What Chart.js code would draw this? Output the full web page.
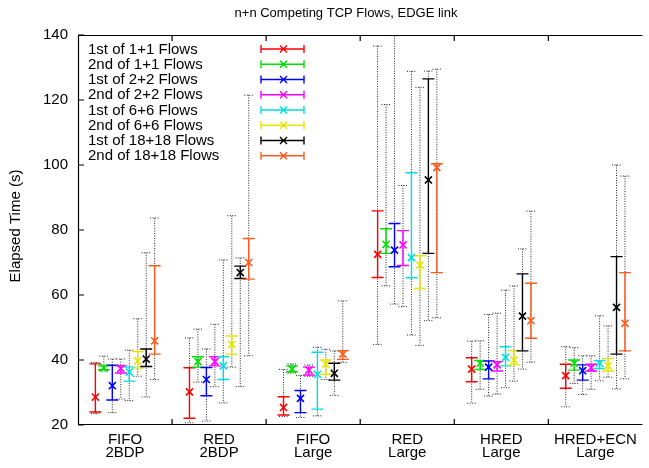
<!DOCTYPE html>
<html>
<head>
<meta charset="utf-8">
<script src="https://cdn.jsdelivr.net/npm/chart.js@4"></script>
<style>
  html, body { margin: 0; padding: 0; background: #fff; }
</style>
</head>
<body>
<canvas id="chart" width="649" height="468"></canvas>
<script>
// DATA
const categories = [["FIFO", "2BDP"], ["RED", "2BDP"], ["FIFO", "Large"], ["RED", "Large"], ["HRED", "Large"], ["HRED+ECN", "Large"]];
const seriesNames = ["1st of 1+1 Flows", "2nd of 1+1 Flows", "1st of 2+2 Flows", "2nd of 2+2 Flows",
  "1st of 6+6 Flows", "2nd of 6+6 Flows", "1st of 18+18 Flows", "2nd of 18+18 Flows"];
const seriesColors = ["#ff0000", "#00e000", "#0000ff", "#ff00ff", "#00e0e0", "#e6e600", "#000000", "#ff5a1a"];
const yTicks = [20, 40, 60, 80, 100, 120, 140];

// mean elapsed time, one row per series, one column per category
const elapsedMean = [
  [28.6, 30.2, 25.4, 72.5, 37.2, 35.2],
  [37.6, 39.5, 37.2, 75.6, 39.0, 39.0],
  [32.1, 34.0, 28.2, 73.8, 37.8, 36.7],
  [37.4, 39.5, 36.9, 75.4, 38.5, 37.6],
  [36.3, 38.2, 35.6, 71.5, 40.8, 39.0],
  [39.7, 44.8, 38.7, 69.2, 40.0, 38.2],
  [40.3, 66.9, 35.9, 95.4, 53.5, 56.2],
  [45.9, 70.0, 41.8, 99.2, 52.1, 51.3]
];
// solid error bars
const ciLow = [
  [24.0, 22.1, 23.1, 65.4, 33.3, 31.3],
  [37.0, 37.8, 36.4, 72.8, 37.1, 36.9],
  [27.7, 29.0, 23.8, 68.7, 34.2, 33.8],
  [36.0, 38.2, 35.4, 69.1, 36.6, 36.6],
  [33.5, 34.0, 24.9, 65.3, 38.2, 37.4],
  [37.5, 41.8, 35.6, 62.0, 38.5, 36.6],
  [38.0, 65.1, 33.8, 72.8, 42.8, 41.8],
  [41.8, 64.9, 40.2, 66.9, 46.7, 42.8]
];
const ciHigh = [
  [38.8, 37.6, 28.7, 85.9, 40.7, 38.7],
  [38.2, 41.0, 38.2, 80.4, 39.8, 40.0],
  [38.4, 37.7, 30.6, 82.0, 39.7, 38.5],
  [38.2, 41.0, 37.8, 79.8, 39.5, 38.7],
  [37.8, 41.0, 42.4, 97.6, 44.1, 39.8],
  [42.6, 47.4, 40.0, 72.1, 42.9, 40.5],
  [43.4, 68.9, 39.0, 126.5, 66.5, 71.8],
  [69.0, 77.4, 42.9, 100.4, 63.6, 66.9]
];
// dotted min / max
const rangeMin = [
  [23.5, 20.7, 22.6, 44.8, 26.7, 25.6],
  [36.6, 33.2, 36.0, 62.8, 31.0, 32.8],
  [23.8, 21.2, 22.3, 57.2, 28.9, 29.4],
  [28.0, 31.8, 35.0, 56.4, 29.5, 31.0],
  [27.5, 26.8, 22.8, 47.7, 31.5, 33.6],
  [35.0, 37.8, 34.0, 44.5, 33.5, 34.7],
  [28.6, 31.8, 29.1, 52.1, 37.2, 31.1],
  [34.0, 41.3, 39.2, 53.0, 39.3, 34.2]
];
const rangeMax = [
  [39.2, 46.8, 37.1, 136.6, 45.8, 44.1],
  [41.2, 49.5, 38.8, 118.6, 45.9, 43.8],
  [40.3, 43.4, 35.2, 139.8, 54.0, 41.3],
  [40.3, 51.0, 38.5, 93.7, 54.4, 41.3],
  [43.0, 70.8, 43.9, 128.8, 61.5, 53.6],
  [52.7, 84.4, 43.3, 123.9, 62.8, 50.5],
  [73.0, 71.4, 42.8, 128.9, 74.2, 100.0],
  [83.7, 121.5, 58.2, 129.5, 85.8, 96.6]
];

const FONT = "'Liberation Sans', Arial, Helvetica, sans-serif";
const groupStep = 0.09;
const seriesX = (s, i) => i + (s - 3.5) * groupStep;

// ERROR BARS (dotted ranges first, then solid bars)
const errorBars = {
  id: "errorBars",
  beforeDatasetsDraw(chart) {
    const { ctx, scales: { x, y } } = chart;
    ctx.save();
    ctx.lineWidth = 1;
    ctx.strokeStyle = "#222";
    ctx.setLineDash([1, 1.5]);
    seriesNames.forEach((name, s) => {
      categories.forEach((c, i) => {
        const px = x.getPixelForValue(seriesX(s, i));
        const top = y.getPixelForValue(rangeMax[s][i]);
        const bot = y.getPixelForValue(rangeMin[s][i]);
        ctx.beginPath();
        ctx.moveTo(px, top); ctx.lineTo(px, bot);
        ctx.moveTo(px - 4.5, top); ctx.lineTo(px + 4.5, top);
        ctx.moveTo(px - 4.5, bot); ctx.lineTo(px + 4.5, bot);
        ctx.stroke();
      });
    });
    ctx.setLineDash([]);
    ctx.lineWidth = 1.4;
    seriesNames.forEach((name, s) => {
      ctx.strokeStyle = seriesColors[s];
      categories.forEach((c, i) => {
        const px = x.getPixelForValue(seriesX(s, i));
        const top = y.getPixelForValue(ciHigh[s][i]);
        const bot = y.getPixelForValue(ciLow[s][i]);
        ctx.beginPath();
        ctx.moveTo(px, top); ctx.lineTo(px, bot);
        ctx.moveTo(px - 6, top); ctx.lineTo(px + 6, top);
        ctx.moveTo(px - 6, bot); ctx.lineTo(px + 6, bot);
        ctx.stroke();
      });
    });
    ctx.restore();
  }
};

// FRAME, INWARD TICKS, TITLE, AXIS LABEL, KEY
const decorations = {
  id: "decorations",
  afterDraw(chart) {
    const { ctx, chartArea: a, scales: { x, y } } = chart;
    ctx.save();
    ctx.strokeStyle = "#000";
    ctx.lineWidth = 1.2;
    ctx.beginPath();
    ctx.moveTo(a.right, a.top + 0.5); ctx.lineTo(a.left + 0.5, a.top + 0.5);
    ctx.lineTo(a.left + 0.5, a.bottom - 0.5); ctx.lineTo(a.right, a.bottom - 0.5);
    yTicks.forEach((v) => {
      const py = y.getPixelForValue(v);
      ctx.moveTo(a.left, py); ctx.lineTo(a.left + 6, py);
    });
    categories.slice(1).forEach((c, i) => {
      const px = x.getPixelForValue(i + 0.5);
      ctx.moveTo(px, a.bottom); ctx.lineTo(px, a.bottom - 6);
      ctx.moveTo(px, a.top); ctx.lineTo(px, a.top + 6);
    });
    ctx.stroke();

    ctx.fillStyle = "#000";
    ctx.textAlign = "center";
    ctx.textBaseline = "middle";
    ctx.font = "13px " + FONT;
    ctx.fillText("n+n Competing TCP Flows, EDGE link", 346, 13);

    ctx.save();
    ctx.translate(16, 226);
    ctx.rotate(-Math.PI / 2);
    ctx.font = "15px " + FONT;
    ctx.fillText("Elapsed Time (s)", 0, 0);
    ctx.restore();

    // key
    ctx.font = "15px " + FONT;
    ctx.textAlign = "left";
    seriesNames.forEach((name, s) => {
      const ry = 49 + s * 15.25;
      ctx.fillStyle = "#000";
      ctx.fillText(name, 88, ry + 0.5);
      ctx.strokeStyle = seriesColors[s];
      ctx.lineWidth = 1.4;
      ctx.beginPath();
      ctx.moveTo(261, ry); ctx.lineTo(304, ry);
      ctx.moveTo(261, ry - 4); ctx.lineTo(261, ry + 4);
      ctx.moveTo(304, ry - 4); ctx.lineTo(304, ry + 4);
      ctx.moveTo(280, ry - 3.5); ctx.lineTo(287, ry + 3.5);
      ctx.moveTo(280, ry + 3.5); ctx.lineTo(287, ry - 3.5);
      ctx.stroke();
    });
    ctx.restore();
  }
};

const datasets = seriesNames.map((name, s) => ({
  label: name,
  data: categories.map((c, i) => ({ x: seriesX(s, i), y: elapsedMean[s][i] })),
  borderColor: seriesColors[s],
  backgroundColor: seriesColors[s],
  pointStyle: "crossRot",
  pointRadius: 5,
  pointBorderWidth: 1.6,
  showLine: false
}));

new Chart(document.getElementById("chart"), {
  type: "scatter",
  data: { datasets },
  options: {
    responsive: false,
    animation: false,
    layout: { padding: { top: 35, left: 0, right: 0, bottom: 0 } },
    plugins: { legend: { display: false }, tooltip: { enabled: false } },
    scales: {
      x: {
        type: "linear",
        min: -0.5,
        max: 5.5,
        grid: { display: false, drawTicks: false },
        border: { display: false },
        afterBuildTicks: (scale) => { scale.ticks = categories.map((c, i) => ({ value: i })); },
        afterFit: (scale) => { scale.height = 43; },
        ticks: {
          autoSkip: false,
          maxRotation: 0,
          padding: 8,
          color: "#000",
          font: { family: FONT, size: 15, lineHeight: 0.87 },
          callback: (v, i) => categories[i]
        }
      },
      y: {
        min: 20,
        max: 140,
        grid: { display: false, drawTicks: false },
        border: { display: false },
        afterBuildTicks: (scale) => { scale.ticks = yTicks.map((v) => ({ value: v })); },
        afterFit: (scale) => { scale.width = 78; },
        ticks: { padding: 10, color: "#000", font: { family: FONT, size: 15 } }
      }
    }
  },
  plugins: [errorBars, decorations]
});
</script>
</body>
</html>
